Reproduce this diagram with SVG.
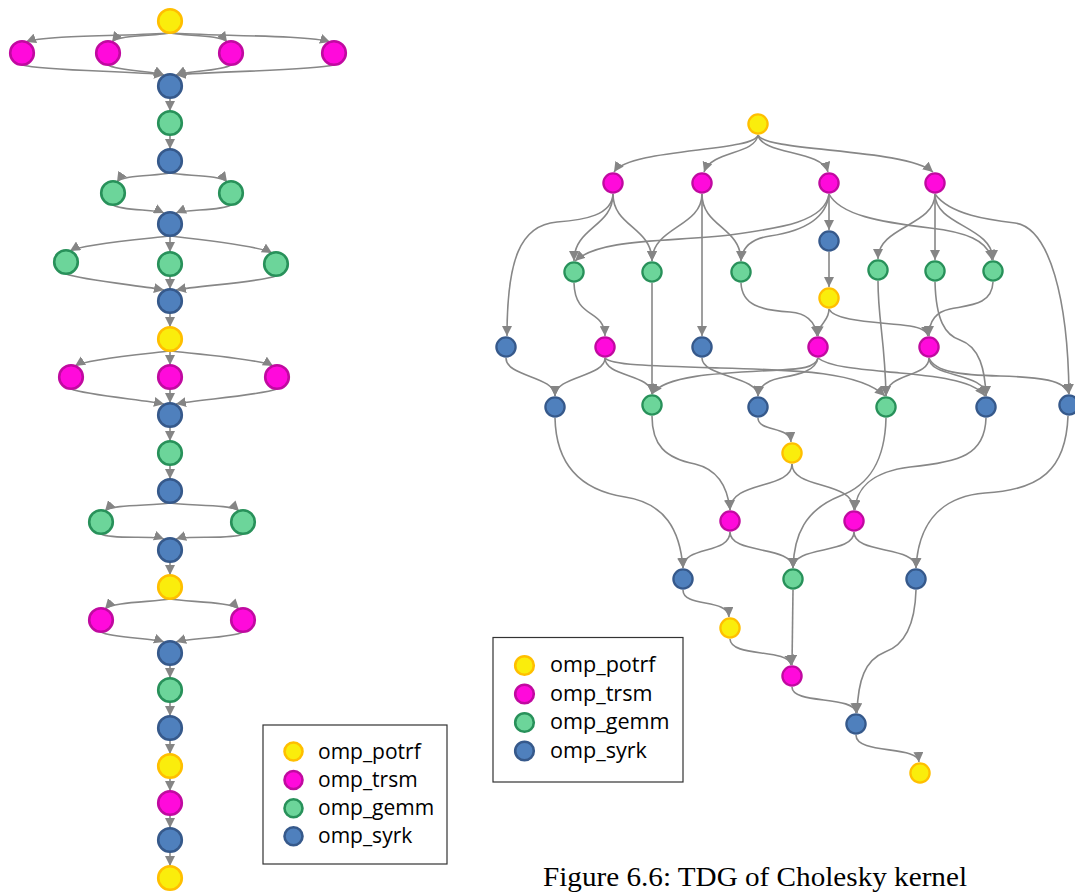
<svg xmlns="http://www.w3.org/2000/svg" width="1075" height="893" viewBox="0 0 1075 893">
  <defs>
    <marker id="ah" viewBox="0 0 10 10" refX="10" refY="5" markerWidth="10" markerHeight="10" markerUnits="userSpaceOnUse" orient="auto">
      <path d="M0,0 L10,5 L0,10 z" fill="#858585"/>
    </marker>
    <style>
      .edge { fill: none; stroke: #878787; stroke-width: 1.6; marker-end: url(#ah); }
      .potrf { fill: #FAED0C; stroke: #FFBF00; }
      .trsm { fill: #FF0ADB; stroke: #C00AA0; }
      .gemm { fill: #6CD59A; stroke: #28915A; }
      .syrk { fill: #4F80BD; stroke: #36598B; }
      .big { stroke-width: 2.6; }
      .small { stroke-width: 2.3; }
      .legend-box { fill: #FFFFFF; stroke: #333333; stroke-width: 1.2; }
      .legend-text { font-family: "Open Sans", "Liberation Sans", sans-serif; font-size: 21px; fill: #000000; }
      .caption { font-family: "Liberation Serif", "Times New Roman", serif; font-size: 27px; fill: #000000; }
    </style>
  </defs>

  <rect width="1075" height="893" fill="#FFFFFF"/>

  <!-- Left task graph: connectors -->
  <g id="left-connectors">
    <path class="edge" d="M170,33 C133,36 44,35 26,42"/>
    <path class="edge" d="M170,33 C154.5,36 117.3,35 112,42"/>
    <path class="edge" d="M170,33 C185.3,36 221.9,35 227,42"/>
    <path class="edge" d="M170,33 C211,36 309.4,35 330,42"/>
    <path class="edge" d="M22,65 C44.2,71 133,71 164,75"/>
    <path class="edge" d="M108,65 C117.3,71 154.5,71 164,75"/>
    <path class="edge" d="M231,65 C221.9,71 185.3,71 176,75"/>
    <path class="edge" d="M334,65 C309.4,71 211,71 176,75"/>
    <path class="edge" d="M170,98 L170,111"/>
    <path class="edge" d="M170,135 L170,149"/>
    <path class="edge" d="M170,173 C155.75,176 121.6,175 117,182"/>
    <path class="edge" d="M170,173 C185.25,176 221.85,175 227,182"/>
    <path class="edge" d="M113,205 C121.6,211 155.75,209 164,213"/>
    <path class="edge" d="M231,205 C221.85,211 185.25,209 176,213"/>
    <path class="edge" d="M170,236 C144,239 81.6,244 70,251"/>
    <path class="edge" d="M170,236 L170,252"/>
    <path class="edge" d="M170,236 C196.5,239 260.1,246 272,253"/>
    <path class="edge" d="M66,274 C81.6,280 144,286 164,290"/>
    <path class="edge" d="M170,276 L170,289"/>
    <path class="edge" d="M276,276 C260.1,282 196.5,286 176,290"/>
    <path class="edge" d="M170,313 L170,327"/>
    <path class="edge" d="M170,351 C145.25,354 85.85,359 75,366"/>
    <path class="edge" d="M170,351 L170,365"/>
    <path class="edge" d="M170,351 C196.75,354 260.95,359 273,366"/>
    <path class="edge" d="M71,389 C85.85,395 145.25,400 164,404"/>
    <path class="edge" d="M170,389 L170,403"/>
    <path class="edge" d="M277,389 C260.95,395 196.75,400 176,404"/>
    <path class="edge" d="M170,427 L170,441"/>
    <path class="edge" d="M170,465 L170,479"/>
    <path class="edge" d="M170,503 C152.75,506 111.35,504 105,511"/>
    <path class="edge" d="M170,503 C188.25,506 232.05,504 239,511"/>
    <path class="edge" d="M101,534 C111.35,540 152.75,535 164,539"/>
    <path class="edge" d="M243,534 C232.05,540 188.25,535 176,539"/>
    <path class="edge" d="M170,562 L170,575"/>
    <path class="edge" d="M170,599 C152.75,602 111.35,602 105,609"/>
    <path class="edge" d="M170,599 C188.25,602 232.05,602 239,609"/>
    <path class="edge" d="M101,632 C111.35,638 152.75,638 164,642"/>
    <path class="edge" d="M243,632 C232.05,638 188.25,638 176,642"/>
    <path class="edge" d="M170,665 L170,678"/>
    <path class="edge" d="M170,702 L170,716"/>
    <path class="edge" d="M170,740 L170,754"/>
    <path class="edge" d="M170,778 L170,791"/>
    <path class="edge" d="M170,815 L170,828"/>
    <path class="edge" d="M170,852 L170,866"/>
  </g>

  <!-- Left task graph: nodes -->
  <g id="l01"><circle class="potrf big" cx="170" cy="21" r="11.8"/></g>
  <g id="l02"><circle class="trsm big" cx="22" cy="53" r="11.8"/></g>
  <g id="l03"><circle class="trsm big" cx="108" cy="53" r="11.8"/></g>
  <g id="l04"><circle class="trsm big" cx="231" cy="53" r="11.8"/></g>
  <g id="l05"><circle class="trsm big" cx="334" cy="53" r="11.8"/></g>
  <g id="l06"><circle class="syrk big" cx="170" cy="86" r="11.8"/></g>
  <g id="l07"><circle class="gemm big" cx="170" cy="123" r="11.8"/></g>
  <g id="l08"><circle class="syrk big" cx="170" cy="161" r="11.8"/></g>
  <g id="l09"><circle class="gemm big" cx="113" cy="193" r="11.8"/></g>
  <g id="l10"><circle class="gemm big" cx="231" cy="193" r="11.8"/></g>
  <g id="l11"><circle class="syrk big" cx="170" cy="224" r="11.8"/></g>
  <g id="l12"><circle class="gemm big" cx="66" cy="262" r="11.8"/></g>
  <g id="l13"><circle class="gemm big" cx="170" cy="264" r="11.8"/></g>
  <g id="l14"><circle class="gemm big" cx="276" cy="264" r="11.8"/></g>
  <g id="l15"><circle class="syrk big" cx="170" cy="301" r="11.8"/></g>
  <g id="l16"><circle class="potrf big" cx="170" cy="339" r="11.8"/></g>
  <g id="l17"><circle class="trsm big" cx="71" cy="377" r="11.8"/></g>
  <g id="l18"><circle class="trsm big" cx="170" cy="377" r="11.8"/></g>
  <g id="l19"><circle class="trsm big" cx="277" cy="377" r="11.8"/></g>
  <g id="l20"><circle class="syrk big" cx="170" cy="415" r="11.8"/></g>
  <g id="l21"><circle class="gemm big" cx="170" cy="453" r="11.8"/></g>
  <g id="l22"><circle class="syrk big" cx="170" cy="491" r="11.8"/></g>
  <g id="l23"><circle class="gemm big" cx="101" cy="522" r="11.8"/></g>
  <g id="l24"><circle class="gemm big" cx="243" cy="522" r="11.8"/></g>
  <g id="l25"><circle class="syrk big" cx="170" cy="550" r="11.8"/></g>
  <g id="l26"><circle class="potrf big" cx="170" cy="587" r="11.8"/></g>
  <g id="l27"><circle class="trsm big" cx="101" cy="620" r="11.8"/></g>
  <g id="l28"><circle class="trsm big" cx="243" cy="620" r="11.8"/></g>
  <g id="l29"><circle class="syrk big" cx="170" cy="653" r="11.8"/></g>
  <g id="l30"><circle class="gemm big" cx="170" cy="690" r="11.8"/></g>
  <g id="l31"><circle class="syrk big" cx="170" cy="728" r="11.8"/></g>
  <g id="l32"><circle class="potrf big" cx="170" cy="766" r="11.8"/></g>
  <g id="l33"><circle class="trsm big" cx="170" cy="803" r="11.8"/></g>
  <g id="l34"><circle class="syrk big" cx="170" cy="840" r="11.8"/></g>
  <g id="l35"><circle class="potrf big" cx="170" cy="878" r="11.8"/></g>

  <!-- Left legend -->
  <g id="legend-left">
    <rect class="legend-box" x="263" y="725" width="184" height="139"/>
    <circle class="potrf big" cx="293.5" cy="751.5" r="9"/>
    <circle class="trsm big" cx="293.5" cy="780" r="9"/>
    <circle class="gemm big" cx="293.5" cy="808.3" r="9"/>
    <circle class="syrk big" cx="293.5" cy="836.3" r="9"/>
    <text class="legend-text" x="318" y="758.5">omp_potrf</text>
    <text class="legend-text" x="318" y="787">omp_trsm</text>
    <text class="legend-text" x="318" y="815.3">omp_gemm</text>
    <text class="legend-text" x="318" y="843.3">omp_syrk</text>
  </g>

  <!-- Right task graph: connectors -->
  <g id="right-connectors">
    <path class="edge" d="M758,135 C755,152 630,148 614,172"/>
    <path class="edge" d="M758,135 C755,155 712,150 704,172"/>
    <path class="edge" d="M758,135 C762,155 822,150 828,172"/>
    <path class="edge" d="M758,135 C765,152 905,148 933,172"/>
    <path class="edge" d="M613,194 C612,215 585,220 557,222 C520,225 507,260 507,336"/>
    <path class="edge" d="M613,194 C613,227 574,227 574,261"/>
    <path class="edge" d="M613,194 C613,227 652,227 652,261"/>
    <path class="edge" d="M702,194 C702,227 652,227 652,261"/>
    <path class="edge" d="M702,194 L702,336"/>
    <path class="edge" d="M702,194 C702,227 741,227 741,261"/>
    <path class="edge" d="M829,194 L829,230"/>
    <path class="edge" d="M829,194 C825,222 780,228 730,235 C670,242 600,238 575,261"/>
    <path class="edge" d="M829,194 C826,225 790,233 770,236 C750,239 742,248 741,261"/>
    <path class="edge" d="M829,194 C840,215 880,222 930,228 C965,232 988,240 992,260"/>
    <path class="edge" d="M935,194 C935,226 878,226 878,259"/>
    <path class="edge" d="M935,194 L935,260"/>
    <path class="edge" d="M935,194 C935,226 993,226 993,260"/>
    <path class="edge" d="M935,194 C950,215 990,220 1015,223 C1050,228 1068,300 1069,394"/>
    <path class="edge" d="M829,252 L829,287"/>
    <path class="edge" d="M574,283 C575,320 604,308 605,336"/>
    <path class="edge" d="M652,283 L652,394"/>
    <path class="edge" d="M741,283 C742,305 760,310 790,312 C805,313 815,320 817,336"/>
    <path class="edge" d="M829,309 C829,322 819,322 818,336"/>
    <path class="edge" d="M829,309 C835,322 880,322 910,326 C922,328 927,331 928,336"/>
    <path class="edge" d="M878,281 C878,320 885,340 886,396"/>
    <path class="edge" d="M935,282 C936,320 945,335 960,340 C980,347 985,370 986,396"/>
    <path class="edge" d="M993,282 C992,305 970,305 950,309 C935,312 929,322 929,336"/>
    <path class="edge" d="M506,358 C506,377 555,376 555,396"/>
    <path class="edge" d="M605,358 C605,377 555,376 555,396"/>
    <path class="edge" d="M605,358 C605,377 652,374 652,394"/>
    <path class="edge" d="M605,358 C610,365 650,366 720,368 C800,370 860,372 885,396"/>
    <path class="edge" d="M702,358 C702,377 758,376 758,396"/>
    <path class="edge" d="M818,358 C815,368 800,369 780,370 C720,373 665,375 652,394"/>
    <path class="edge" d="M818,358 C816,372 795,375 780,378 C765,381 759,388 758,396"/>
    <path class="edge" d="M818,358 C830,368 870,370 900,373 C945,377 975,382 985,396"/>
    <path class="edge" d="M929,358 C929,378 886,372 886,396"/>
    <path class="edge" d="M929,358 C929,378 986,372 986,396"/>
    <path class="edge" d="M929,358 C935,372 960,375 1000,376 C1040,377 1065,380 1069,394"/>
    <path class="edge" d="M555,418 C556,465 580,490 625,497 C665,503 680,530 683,568"/>
    <path class="edge" d="M652,416 C652,445 665,458 695,464 C720,470 728,490 730,510"/>
    <path class="edge" d="M758,418 C758,432 790,426 791,442"/>
    <path class="edge" d="M886,418 C885,460 870,485 840,496 C805,510 794,535 793,568"/>
    <path class="edge" d="M986,418 C985,455 960,462 910,467 C870,472 856,490 855,510"/>
    <path class="edge" d="M1068,416 C1066,470 1040,490 985,493 C935,497 918,530 916,568"/>
    <path class="edge" d="M792,464 C792,490 730,480 730,510"/>
    <path class="edge" d="M792,464 C792,490 854,480 854,510"/>
    <path class="edge" d="M730,532 C730,555 683,545 683,568"/>
    <path class="edge" d="M730,532 C730,555 793,545 793,568"/>
    <path class="edge" d="M854,532 C854,555 793,545 793,568"/>
    <path class="edge" d="M854,532 C854,555 916,545 916,568"/>
    <path class="edge" d="M683,590 C683,608 728,598 729,617"/>
    <path class="edge" d="M793,590 L792,665"/>
    <path class="edge" d="M730,639 C731,658 788,648 791,665"/>
    <path class="edge" d="M916,590 C915,625 905,645 885,652 C865,660 858,680 857,713"/>
    <path class="edge" d="M792,687 C792,705 855,695 856,713"/>
    <path class="edge" d="M856,735 C856,755 918,745 919,762"/>
  </g>

  <!-- Right task graph: nodes -->
  <g id="r-y0"><circle class="potrf small" cx="758" cy="124" r="9.6"/></g>
  <g id="r-t1"><circle class="trsm small" cx="613" cy="183" r="9.6"/></g>
  <g id="r-t2"><circle class="trsm small" cx="702" cy="183" r="9.6"/></g>
  <g id="r-t3"><circle class="trsm small" cx="829" cy="183" r="9.6"/></g>
  <g id="r-t4"><circle class="trsm small" cx="935" cy="183" r="9.6"/></g>
  <g id="r-sa"><circle class="syrk small" cx="829" cy="241" r="9.6"/></g>
  <g id="r-g1"><circle class="gemm small" cx="574" cy="272" r="9.6"/></g>
  <g id="r-g2"><circle class="gemm small" cx="652" cy="272" r="9.6"/></g>
  <g id="r-g3"><circle class="gemm small" cx="741" cy="272" r="9.6"/></g>
  <g id="r-g4"><circle class="gemm small" cx="878" cy="270" r="9.6"/></g>
  <g id="r-g5"><circle class="gemm small" cx="935" cy="271" r="9.6"/></g>
  <g id="r-g6"><circle class="gemm small" cx="993" cy="271" r="9.6"/></g>
  <g id="r-y1"><circle class="potrf small" cx="829" cy="298" r="9.6"/></g>
  <g id="r-s1"><circle class="syrk small" cx="506" cy="347" r="9.6"/></g>
  <g id="r-t5"><circle class="trsm small" cx="605" cy="347" r="9.6"/></g>
  <g id="r-s2"><circle class="syrk small" cx="702" cy="347" r="9.6"/></g>
  <g id="r-t6"><circle class="trsm small" cx="818" cy="347" r="9.6"/></g>
  <g id="r-t7"><circle class="trsm small" cx="929" cy="347" r="9.6"/></g>
  <g id="r-s3"><circle class="syrk small" cx="555" cy="407" r="9.6"/></g>
  <g id="r-g7"><circle class="gemm small" cx="652" cy="405" r="9.6"/></g>
  <g id="r-s4"><circle class="syrk small" cx="758" cy="407" r="9.6"/></g>
  <g id="r-g8"><circle class="gemm small" cx="886" cy="407" r="9.6"/></g>
  <g id="r-s5"><circle class="syrk small" cx="986" cy="407" r="9.6"/></g>
  <g id="r-s6"><circle class="syrk small" cx="1069" cy="405" r="9.6"/></g>
  <g id="r-y2"><circle class="potrf small" cx="792" cy="453" r="9.6"/></g>
  <g id="r-t8"><circle class="trsm small" cx="730" cy="521" r="9.6"/></g>
  <g id="r-t9"><circle class="trsm small" cx="854" cy="521" r="9.6"/></g>
  <g id="r-s7"><circle class="syrk small" cx="683" cy="579" r="9.6"/></g>
  <g id="r-g9"><circle class="gemm small" cx="793" cy="579" r="9.6"/></g>
  <g id="r-s8"><circle class="syrk small" cx="916" cy="579" r="9.6"/></g>
  <g id="r-y3"><circle class="potrf small" cx="730" cy="628" r="9.6"/></g>
  <g id="r-t10"><circle class="trsm small" cx="792" cy="676" r="9.6"/></g>
  <g id="r-s9"><circle class="syrk small" cx="856" cy="724" r="9.6"/></g>
  <g id="r-y4"><circle class="potrf small" cx="920" cy="773" r="9.6"/></g>

  <!-- Right legend -->
  <g id="legend-right">
    <rect class="legend-box" x="493" y="637.5" width="190" height="144.5"/>
    <circle class="potrf big" cx="524.5" cy="665.5" r="9.3"/>
    <circle class="trsm big" cx="524.5" cy="694" r="9.3"/>
    <circle class="gemm big" cx="524.5" cy="722.5" r="9.3"/>
    <circle class="syrk big" cx="524.5" cy="751" r="9.3"/>
    <text class="legend-text" x="550" y="672" style="font-size:21.6px">omp_potrf</text>
    <text class="legend-text" x="550" y="700.5" style="font-size:21.6px">omp_trsm</text>
    <text class="legend-text" x="550" y="729" style="font-size:21.6px">omp_gemm</text>
    <text class="legend-text" x="550" y="757.5" style="font-size:21.6px">omp_syrk</text>
  </g>

  <!-- Caption -->
  <text class="caption" x="543" y="886" textLength="424" lengthAdjust="spacingAndGlyphs">Figure 6.6: TDG of Cholesky kernel</text>
</svg>
